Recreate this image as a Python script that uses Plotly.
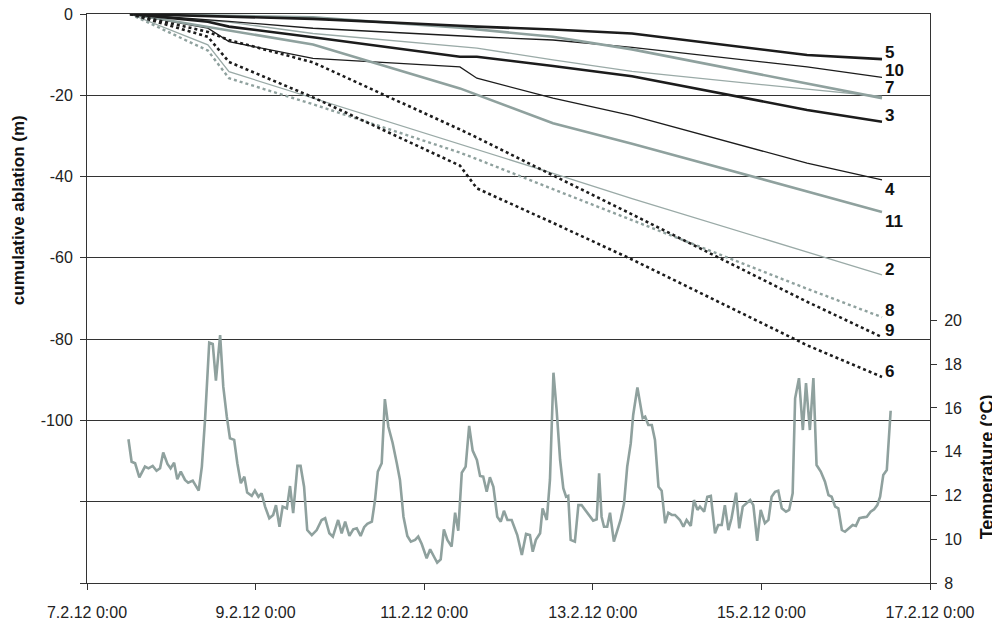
import plotly.graph_objects as go
import pandas as pd

# ---------------- data ----------------
abl_times = ["2012-02-07 12:15", "2012-02-08 10:25", "2012-02-08 16:25", "2012-02-09 16:20",
             "2012-02-11 10:10", "2012-02-11 15:00", "2012-02-12 12:40", "2012-02-13 11:10",
             "2012-02-15 13:00", "2012-02-16 10:20"]

s5 = [0, -0.5, -0.6, -1.2, -2.9, -3.1, -3.8, -4.8, -10.1, -11.1]
s10 = [0, -1.3, -1.8, -3.5, -5.4, -5.6, -6.4, -8.2, -13.0, -15.6]
s7 = [0, -0.3, -0.4, -0.8, -3.4, -3.8, -5.6, -8.7, -17.1, -20.7]
s1 = [0, -1.5, -2.0, -4.8, -8.0, -8.4, -11.3, -14.1, -18.5, -20.3]
s3 = [0, -1.9, -3.1, -5.7, -10.5, -10.5, -12.8, -15.3, -23.6, -26.5]
s4 = [0, -3.5, -6.8, -10.9, -13.0, -15.8, -20.7, -25.0, -36.7, -40.8]
s11 = [0, -3.2, -4.2, -7.5, -18.3, -19.9, -26.9, -31.9, -43.6, -48.7]
s2 = [0, -7.6, -14.2, -20.7, -31.9, -33.2, -39.2, -45.4, -58.7, -64.2]
s8 = [0, -9.0, -15.8, -22.2, -34.1, -35.7, -43.1, -50.7, -67.6, -74.6]
s9 = [0, -4.4, -6.4, -11.9, -28.4, -30.4, -39.7, -49.3, -70.8, -79.5]
s6 = [0, -5.6, -11.8, -20.5, -37.3, -42.9, -51.4, -60.4, -81.5, -89.3]

# temperature: hours after 7.2.12 0:00 and values (deg C)
temp_hours = [11.8, 12.7, 13.7, 14.9, 16.5, 17.5, 18.7, 19.8, 20.8, 21.7,
              22.9, 23.8, 24.8, 25.7, 26.7, 27.9, 28.8, 30.1, 31.8, 32.7,
              33.6, 34.8, 35.8, 36.7, 37.9, 38.8, 39.8, 40.7, 41.9, 42.8,
              43.8, 44.8, 45.6, 46.9, 47.8, 48.8, 49.7, 50.7, 51.9, 53.0,
              53.8, 54.8, 55.7, 56.9, 57.8, 58.7, 59.9, 60.8, 61.8, 62.7,
              64.0, 65.4, 66.8, 67.8, 69.0, 70.0, 71.5, 72.5, 73.5, 74.7,
              75.8, 76.8, 77.9, 78.9, 79.8, 81.1, 82.0, 82.8, 83.9, 84.8,
              85.8, 87.0, 88.2, 89.1, 90.1, 91.2, 92.2, 93.4, 94.3, 95.3,
              96.7, 97.7, 98.8, 99.7, 100.7, 101.6, 102.6, 103.8, 104.8, 105.7,
              106.7, 107.8, 108.8, 109.8, 111.0, 111.9, 112.8, 113.8, 114.7, 115.7,
              116.8, 117.8, 118.7, 119.7, 120.9, 122.5, 123.8, 125.0, 126.1, 126.9,
              127.8, 129.0, 129.7, 130.9, 131.8, 132.8, 133.7, 134.7, 135.6, 136.4,
              137.0, 137.7, 138.9, 139.9, 140.8, 142.1, 143.2, 144.1, 145.1, 145.8,
              146.5, 147.2, 148.1, 148.9, 150.0, 151.0, 151.9, 152.9, 153.8, 154.8,
              155.5, 156.7, 157.6, 158.2, 158.9, 159.8, 160.8, 161.7, 162.7, 163.6,
              164.6, 165.5, 166.5, 167.4, 168.8, 169.8, 170.7, 171.9, 172.8, 173.8,
              174.5, 175.7, 176.6, 177.6, 178.8, 179.7, 180.7, 181.6, 182.6, 183.5,
              184.8, 185.7, 186.7, 187.8, 188.8, 189.7, 190.8, 191.8, 193.0, 194.0,
              194.9, 195.9, 196.8, 197.8, 199.0, 199.9, 200.9, 201.6, 202.7, 203.8,
              204.7, 205.8, 206.8, 207.7, 208.9, 210.1, 211.1, 212.0, 213.0, 213.9,
              214.9, 215.8, 217.0, 218.0, 218.9, 219.9, 221.0, 222.0, 223.1, 224.1,
              225.0, 225.8, 226.7, 227.7, 228.8]
temp_vals = [14.57, 13.54, 13.47, 12.83, 13.32, 13.24, 13.35, 13.13, 13.24, 13.96,
             13.44, 13.24, 13.50, 12.74, 13.09, 12.71, 12.58, 12.68, 12.22, 13.32,
             15.45, 18.98, 18.92, 17.25, 19.33, 16.97, 15.60, 14.61, 14.54, 13.47,
             12.56, 12.86, 12.13, 11.98, 12.22, 11.94, 12.10, 11.49, 10.96, 11.11,
             11.56, 10.57, 11.49, 11.41, 12.43, 11.19, 13.35, 13.35, 12.40, 10.42,
             10.19, 10.42, 10.88, 10.96, 10.27, 10.12, 10.88, 10.27, 10.80, 10.15,
             10.45, 10.50, 10.15, 10.55, 10.70, 10.80, 11.79, 13.09, 13.47, 16.40,
             15.14, 14.41, 13.47, 12.71, 11.03, 10.15, 9.89, 9.97, 10.12, 9.78,
             9.13, 9.54, 9.20, 8.93, 9.08, 10.45, 9.97, 9.66, 11.21, 10.39,
             13.04, 13.32, 15.18, 14.05, 13.62, 12.89, 12.86, 12.17, 12.83, 12.40,
             11.03, 10.80, 11.30, 10.88, 10.88, 10.19, 9.28, 10.24, 10.19, 9.43,
             9.97, 10.27, 11.41, 10.88, 12.71, 17.61, 15.91, 13.62, 12.33, 11.94,
             11.98, 9.97, 9.89, 11.56, 11.56, 11.30, 11.06, 10.85, 10.91, 13.01,
             11.03, 10.57, 10.57, 11.21, 9.89, 10.42, 10.88, 11.64, 13.32, 14.38,
             15.68, 16.94, 16.06, 15.53, 15.60, 15.22, 15.22, 14.54, 12.40, 12.22,
             10.73, 11.21, 11.11, 11.11, 10.88, 10.57, 10.88, 10.61, 11.79, 11.34,
             11.49, 11.26, 11.94, 11.98, 10.27, 10.65, 10.65, 11.56, 10.42, 10.96,
             12.13, 10.50, 11.49, 11.64, 11.79, 11.56, 9.93, 11.34, 10.73, 10.88,
             11.94, 12.17, 12.22, 11.41, 11.26, 11.34, 12.10, 16.44, 17.36, 14.99,
             17.13, 14.99, 17.36, 13.39, 13.09, 12.63, 12.02, 11.94, 11.49, 11.41,
             10.42, 10.34, 10.50, 10.65, 10.61, 10.96, 11.00, 11.03, 11.26, 11.37,
             11.56, 11.94, 12.94, 13.16, 15.87]

x_ticks = ["2012-02-07", "2012-02-09", "2012-02-11", "2012-02-13", "2012-02-15", "2012-02-17"]
x_ticktext = ["7.2.12 0:00", "9.2.12 0:00", "11.2.12 0:00", "13.2.12 0:00", "15.2.12 0:00", "17.2.12 0:00"]
y_ticks = [0, -20, -40, -60, -80, -100, -120, -140]
y_ticktext = ["0", "-20", "-40", "-60", "-80", "-100", "", ""]
y2_ticks = [8, 10, 12, 14, 16, 18, 20]

# ---------------- styles ----------------
BLACK = "#1c1c1c"
GRAY = "#8fa19e"
GRAY_THIN = "#9aaaa7"
FONT = "Arial, Liberation Sans, sans-serif"

series = [
    # name, values, color, width, dash, label, yshift
    ("1", s1, GRAY_THIN, 1.3, "solid", None, 0),
    ("2", s2, GRAY_THIN, 1.3, "solid", "2", 5),
    ("10", s10, BLACK, 1.3, "solid", "10", 7),
    ("4", s4, BLACK, 1.3, "solid", "4", -10),
    ("7", s7, GRAY, 2.6, "solid", "7", 11),
    ("11", s11, GRAY, 2.6, "solid", "11", -10),
    ("5", s5, BLACK, 2.6, "solid", "5", 7),
    ("3", s3, BLACK, 2.6, "solid", "3", 6),
    ("8", s8, GRAY, 2.4, "dot", "8", 7),
    ("9", s9, BLACK, 2.6, "dot", "9", 7),
    ("6", s6, BLACK, 2.6, "dot", "6", 5),
]

fig = go.Figure()

temp_times = pd.Timestamp("2012-02-07") + pd.to_timedelta(temp_hours, unit="h")
fig.add_trace(go.Scatter(x=temp_times, y=temp_vals, mode="lines", yaxis="y2",
                         line=dict(color=GRAY, width=2.6), name="Temperature",
                         showlegend=False))

annotations = []
for name, vals, color, width, dash, label, ysh in series:
    fig.add_trace(go.Scatter(x=abl_times, y=vals, mode="lines",
                             line=dict(color=color, width=width, dash=dash),
                             name=name, showlegend=False))
    if label:
        annotations.append(dict(x=abl_times[-1], y=vals[-1], xref="x", yref="y",
                                text=f"<b>{label}</b>", showarrow=False,
                                xanchor="left", yanchor="middle", xshift=1, yshift=ysh,
                                font=dict(family=FONT, size=17, color="#111")))

annotations.append(dict(x=-0.082, y=0.655, xref="paper", yref="paper",
                        text="<b>cumulative ablation (m)</b>", textangle=-90,
                        showarrow=False, xanchor="center", yanchor="middle",
                        font=dict(family=FONT, size=17, color="#111")))
annotations.append(dict(x=1.0676, y=0.205, xref="paper", yref="paper",
                        text="<b>Temperature (°C)</b>", textangle=-90,
                        showarrow=False, xanchor="center", yanchor="middle",
                        font=dict(family=FONT, size=18, color="#111")))

axis_common = dict(showline=True, linecolor="#333", linewidth=1, ticks="outside",
                   ticklen=6, tickcolor="#333", zeroline=False, automargin=False,
                   ticklabeloverflow="allow",
                   tickfont=dict(family=FONT, size=16, color="#222"))

# the page has an 8px body margin, so the figure is sized/offset to compensate
fig.update_layout(
    width=992, height=620,
    margin=dict(l=79, r=70, t=6, b=45),
    paper_bgcolor="white", plot_bgcolor="white",
    showlegend=False,
    xaxis=dict(type="date", range=["2012-02-07", "2012-02-17"], tickvals=x_ticks,
               ticktext=x_ticktext, showgrid=False, ticklabelstandoff=9,
               mirror=True, **axis_common),
    yaxis=dict(range=[-140, 0], tickvals=y_ticks, ticktext=y_ticktext, showgrid=True,
               gridcolor="#333", gridwidth=1, ticklabelstandoff=4, **axis_common),
    yaxis2=dict(range=[8, 34], tickvals=y2_ticks, overlaying="y", side="right",
                showgrid=False, ticklabelstandoff=4, **axis_common),
    annotations=annotations,
)

fig.write_html("out.html")
